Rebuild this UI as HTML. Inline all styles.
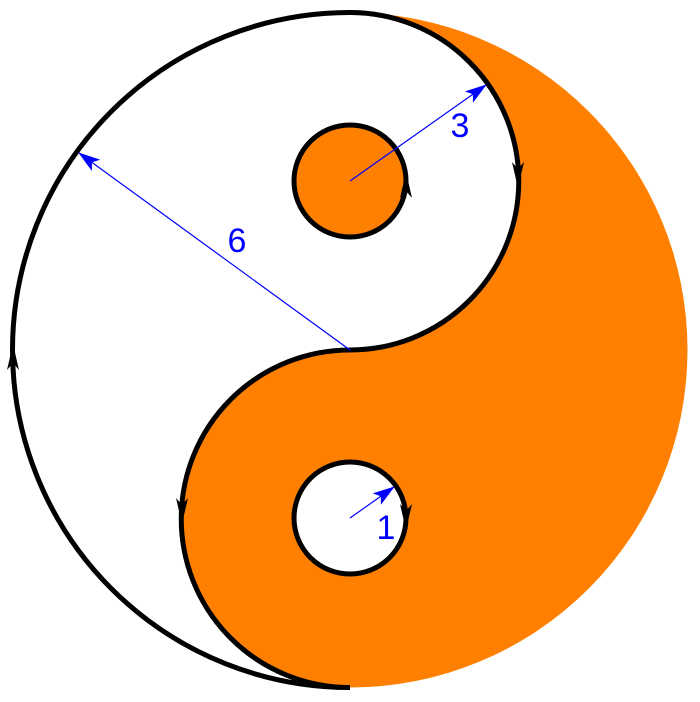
<!DOCTYPE html>
<html><head><style>html,body{margin:0;padding:0;background:#fff;}svg{display:block}</style></head>
<body>
<svg width="700" height="702" viewBox="0 0 700 702" xmlns="http://www.w3.org/2000/svg">
<defs>
<marker id="ab" markerWidth="22" markerHeight="14" refX="21" refY="7" orient="auto" markerUnits="userSpaceOnUse" viewBox="0 0 22 14">
<path d="M0,0 L22,7 L0,14 L5,7 Z" fill="#0000ff"/></marker>
</defs>
<path d="M350,12.5 A337.5,337.5 0 0 1 350,687.5 A168.75,168.75 0 0 1 350,350 A168.75,168.75 0 0 0 350,12.5 Z" fill="#ff8000"/>
<path d="M350,12.5 A168.75,168.75 0 0 1 350,350 A168.75,168.75 0 0 0 350,687.5 A337.5,337.5 0 0 1 350,12.5" fill="none" stroke="#000" stroke-width="5"/>
<circle cx="350" cy="181" r="56" fill="#ff8000" stroke="#000" stroke-width="5"/>
<circle cx="350" cy="518" r="56" fill="#fff" stroke="#000" stroke-width="5"/>
<path d="M13,344 L7,370 L13,363 L19,370 Z" fill="#000"/>
<path d="M518,188 L512,162 L518,169 L524,162 Z" fill="#000"/>
<path d="M182,524 L176,498 L182,505 L188,498 Z" fill="#000"/>
<path d="M406,172 L400,198 L406,191 L412,198 Z" fill="#000"/>
<path d="M406,530 L400,504 L406,511 L412,504 Z" fill="#000"/>
<line x1="350" y1="350" x2="79" y2="153" stroke="#0000ff" stroke-width="1.2" marker-end="url(#ab)"/>
<line x1="350" y1="181" x2="486" y2="85" stroke="#0000ff" stroke-width="1.2" marker-end="url(#ab)"/>
<line x1="350" y1="518" x2="394" y2="487" stroke="#0000ff" stroke-width="1.2" marker-end="url(#ab)"/>
<g font-family="Liberation Sans, sans-serif" font-size="34" fill="#0000ff" text-anchor="middle">
<text x="237" y="252">6</text>
<text x="460" y="137">3</text>
<text x="386" y="539">1</text>
</g>
</svg>
</body></html>
